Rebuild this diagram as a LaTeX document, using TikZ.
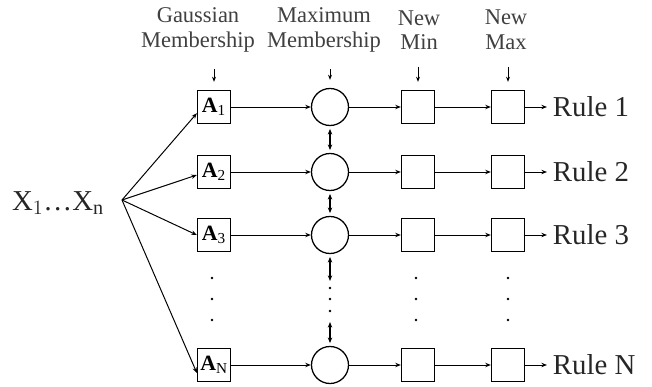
\documentclass[tikz,border=0pt]{standalone}
\usepackage{fontspec}
\setmainfont{Liberation Serif}
\usepackage{tikz}
\usetikzlibrary{arrows.meta,positioning,calc}

\begin{document}
\begin{tikzpicture}[
  x=0.025cm, y=-0.025cm,
  abox/.style={rectangle, draw, line width=0.9pt, minimum size=0.825cm, inner sep=0pt, font=\fontsize{15.5}{15.5}\selectfont\bfseries},
  mbox/.style={rectangle, draw, line width=0.9pt, minimum size=0.825cm, inner sep=0pt},
  mcirc/.style={circle, draw, line width=0.9pt, minimum size=0.925cm, inner sep=0pt},
  head/.style={align=center, text=black!75, font=\fontsize{16}{17.5}\selectfont},
  rule/.style={anchor=west, inner sep=4pt, text=black!85, font=\fontsize{20.5}{20.5}\selectfont},
  link/.style={-{Stealth[length=1.4mm, width=1.1mm]}, line width=0.7pt},
  both/.style={{Stealth[length=1.4mm, width=1.1mm]}-{Stealth[length=1.4mm, width=1.1mm]}, line width=0.8pt},
  hdr/.style={-{Stealth[length=1.3mm, width=1mm]}, line width=0.7pt}
]
\useasboundingbox (0,0) rectangle (652,387);

% Eingang
\node[font=\fontsize{20.5}{20.5}\selectfont, text=black!85] (X) at (58,203) {X$_1$\ldots X$_\mathrm{n}$};
\coordinate (fan) at (122,200);

% Kopfzeilen
\node[head] (hG) at (198,30) {Gaussian\\Membership};
\node[head] (hM) at (324,30) {Maximum\\Membership};
\node[head] (hN) at (419,30) {New\\Min};
\node[head] (hX) at (506,30) {New\\Max};

% Zeilen
\foreach \r/\y in {1/107, 2/172, 3/235, N/365} {
  \node[abox] (A\r) at (214,\y) {A$_{\mathrm{\r}}$};
  \node[mcirc] (C\r) at (330,\y) {};
  \node[mbox] (L\r) at (418,\y) {};
  \node[mbox] (U\r) at (508,\y) {};
  \node[rule] (R\r) at (547,\y) {Rule \r};
  \draw[link] (A\r) -- (C\r);
  \draw[link] (C\r) -- (L\r);
  \draw[link] (L\r) -- (U\r);
  \draw[link] (U\r) -- (R\r);
}

% Fächer
\draw[link] (fan) -- (A1.200);
\draw[link] (fan) -- (A2.190);
\draw[link] (fan) -- (A3.west);
\draw[link] (fan) -- (AN.205);

% Pfeile von oben
\draw[hdr, shorten <=0.3cm, shorten >=0.2cm] (A1 |- hG.south) -- (A1.north);
\draw[hdr, shorten <=0.3cm, shorten >=0.2cm] (C1 |- hM.south) -- (C1.north);
\draw[hdr, shorten <=0.3cm, shorten >=0.2cm] (L1 |- hN.south) -- (L1.north);
\draw[hdr, shorten <=0.3cm, shorten >=0.2cm] (U1 |- hX.south) -- (U1.north);

% Maximum-Verbindungen
\coordinate (d1) at (330,281);
\coordinate (d2) at (330,322);
\draw[both, shorten <=2pt, shorten >=2pt] (C1) -- (C2);
\draw[both, shorten <=2pt, shorten >=2pt] (C2) -- (C3);
\draw[both, shorten <=2pt] (C3) -- (d1);
\draw[both, shorten >=2pt] (d2) -- (CN);

% Punkte
\foreach \x in {212,416,508}
  \foreach \y in {278,299,320}
    \fill (\x,\y) circle (1.3);
\foreach \y in {288,299,311}
  \fill (330,\y) circle (1.3);

\end{tikzpicture}
\end{document}
